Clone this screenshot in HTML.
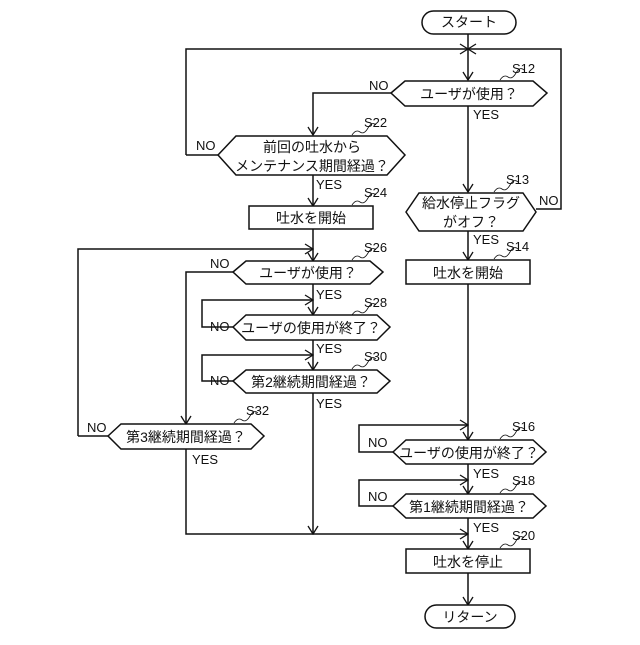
<!DOCTYPE html>
<html><head><meta charset="utf-8"><style>
html,body{margin:0;padding:0;background:#fff}
svg text{font-family:"Liberation Sans","Noto Sans CJK JP",sans-serif;fill:#111}
</style></head><body>
<svg width="640" height="640" viewBox="0 0 640 640" xmlns="http://www.w3.org/2000/svg">
<defs>
<marker id="a" markerWidth="12" markerHeight="12" refX="11" refY="6" orient="auto" markerUnits="userSpaceOnUse" viewBox="0 0 12 12">
<polyline points="3,1 11,6 3,11" fill="none" stroke="#111" stroke-width="1.3"/></marker>
</defs>
<g fill="none" stroke="#111" stroke-width="1.5">
<rect x="422" y="11" width="94" height="23" rx="11.5" fill="#fff"/>
<line x1="468" y1="34" x2="468" y2="80" marker-end="url(#a)"/>
<polyline points="186,155 186,49 468,49" marker-end="url(#a)"/>
<polyline points="536,209 561,209 561,49 468,49" marker-end="url(#a)"/>
<polygon points="391,93 405,81 533,81 547,93 533,106 405,106" fill="#fff"/>
<polyline points="391,93 313,93 313,135" marker-end="url(#a)"/>
<line x1="468" y1="106" x2="468" y2="192" marker-end="url(#a)"/>
<polygon points="218,155 236,136 387,136 405,155 387,175 236,175" fill="#fff"/>
<polyline points="218,155 186,155"/>
<line x1="313" y1="175" x2="313" y2="206" marker-end="url(#a)"/>
<rect x="249" y="206" width="124" height="23" fill="#fff"/>
<line x1="313" y1="229" x2="313" y2="261" marker-end="url(#a)"/>
<polyline points="78,436 78,249 313,249" marker-end="url(#a)"/>
<polygon points="233,272 246,261 370,261 383,272 370,284 246,284" fill="#fff"/>
<polyline points="233,272 186,272 186,424" marker-end="url(#a)"/>
<line x1="313" y1="284" x2="313" y2="315" marker-end="url(#a)"/>
<polygon points="233,327 246,315 377,315 390,327 377,340 246,340" fill="#fff"/>
<polyline points="233,327 202,327 202,300 313,300" marker-end="url(#a)"/>
<line x1="313" y1="340" x2="313" y2="370" marker-end="url(#a)"/>
<polygon points="233,381 246,370 377,370 390,381 377,393 246,393" fill="#fff"/>
<polyline points="233,381 202,381 202,355 313,355" marker-end="url(#a)"/>
<line x1="313" y1="393" x2="313" y2="534" marker-end="url(#a)"/>
<polygon points="108,436 121,424 251,424 264,436 251,449 121,449" fill="#fff"/>
<polyline points="108,436 78,436"/>
<polyline points="186,449 186,534 468,534" marker-end="url(#a)"/>
<polygon points="406,212 419,193 523,193 536,212 523,231 419,231" fill="#fff"/>
<line x1="468" y1="231" x2="468" y2="260" marker-end="url(#a)"/>
<rect x="406" y="260" width="124" height="24" fill="#fff"/>
<line x1="468" y1="284" x2="468" y2="440" marker-end="url(#a)"/>
<polygon points="393,452 406,440 533,440 546,452 533,464 406,464" fill="#fff"/>
<polyline points="393,452 359,452 359,425 468,425" marker-end="url(#a)"/>
<line x1="468" y1="464" x2="468" y2="494" marker-end="url(#a)"/>
<polygon points="393,506 406,494 533,494 546,506 533,518 406,518" fill="#fff"/>
<polyline points="393,506 359,506 359,480 468,480" marker-end="url(#a)"/>
<line x1="468" y1="518" x2="468" y2="549" marker-end="url(#a)"/>
<rect x="406" y="549" width="124" height="24" fill="#fff"/>
<line x1="468" y1="573" x2="468" y2="605" marker-end="url(#a)"/>
<rect x="425" y="605" width="90" height="23" rx="11.5" fill="#fff"/>
<g stroke-width="0.8">
<path d="M500,80 q4,-6 8,-3 t8,-4 t8,-3"/>
<path d="M352,135 q4,-6 8,-3 t8,-4 t8,-3"/>
<path d="M352,205 q4,-6 8,-3 t8,-4 t8,-3"/>
<path d="M494,192 q4,-6 8,-3 t8,-4 t8,-3"/>
<path d="M494,259 q4,-6 8,-3 t8,-4 t8,-3"/>
<path d="M352,260 q4,-6 8,-3 t8,-4 t8,-3"/>
<path d="M352,315 q4,-6 8,-3 t8,-4 t8,-3"/>
<path d="M352,369 q4,-6 8,-3 t8,-4 t8,-3"/>
<path d="M234,423 q4,-6 8,-3 t8,-4 t8,-3"/>
<path d="M500,439 q4,-6 8,-3 t8,-4 t8,-3"/>
<path d="M500,493 q4,-6 8,-3 t8,-4 t8,-3"/>
<path d="M500,548 q4,-6 8,-3 t8,-4 t8,-3"/>
</g>
</g>
<g font-size="14" text-anchor="middle">
<text x="469" y="27">スタート</text>
<text x="469" y="99">ユーザが使用？</text>
<text x="312" y="152">前回の吐水から</text>
<text x="312" y="171">メンテナンス期間経過？</text>
<text x="311" y="223">吐水を開始</text>
<text x="308" y="278">ユーザが使用？</text>
<text x="311" y="333">ユーザの使用が終了？</text>
<text x="311" y="387">第2継続期間経過？</text>
<text x="186" y="442">第3継続期間経過？</text>
<text x="471" y="208">給水停止フラグ</text>
<text x="471" y="227">がオフ？</text>
<text x="468" y="278">吐水を開始</text>
<text x="469" y="458">ユーザの使用が終了？</text>
<text x="469" y="512">第1継続期間経過？</text>
<text x="468" y="567">吐水を停止</text>
<text x="470" y="622">リターン</text>
</g>
<g font-size="13">
<text x="369" y="90">NO</text>
<text x="196" y="150">NO</text>
<text x="210" y="268">NO</text>
<text x="210" y="331">NO</text>
<text x="210" y="385">NO</text>
<text x="87" y="432">NO</text>
<text x="539" y="205">NO</text>
<text x="368" y="447">NO</text>
<text x="368" y="501">NO</text>
<text x="473" y="119">YES</text>
<text x="316" y="189">YES</text>
<text x="473" y="244">YES</text>
<text x="316" y="299">YES</text>
<text x="316" y="353">YES</text>
<text x="316" y="408">YES</text>
<text x="192" y="464">YES</text>
<text x="473" y="478">YES</text>
<text x="473" y="532">YES</text>
<text x="512" y="73">S12</text>
<text x="364" y="127">S22</text>
<text x="364" y="197">S24</text>
<text x="506" y="184">S13</text>
<text x="506" y="251">S14</text>
<text x="364" y="252">S26</text>
<text x="364" y="307">S28</text>
<text x="364" y="361">S30</text>
<text x="246" y="415">S32</text>
<text x="512" y="431">S16</text>
<text x="512" y="485">S18</text>
<text x="512" y="540">S20</text>
</g>
</svg>
</body></html>
